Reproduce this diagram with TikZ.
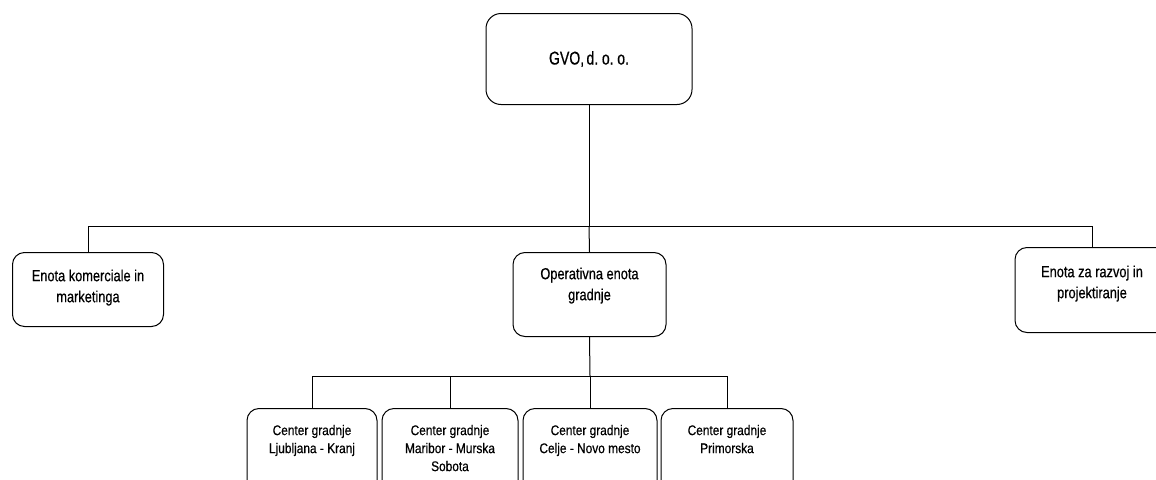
\documentclass[tikz,border=0pt]{standalone}
\usepackage{fontspec}
\setmainfont{Liberation Sans}
\newfontfamily\fonttop{Liberation Sans}[FakeStretch=0.76,FakeBold=0.5,WordSpace=0.6]
\newfontfamily\fontmid{Liberation Sans}[FakeStretch=0.80,FakeBold=0.5]
\newfontfamily\fontlow{Liberation Sans}[FakeStretch=0.85,FakeBold=0.5]
\newcommand\boxtext[5]{\parbox[c][#2][t]{#1}{\centering\vspace*{#3}#4\strut#5\par}}
\begin{document}
\begin{tikzpicture}[x=1pt,y=-1pt,
  box/.style={draw, line width=1pt, rounded corners=12pt, inner sep=0pt, anchor=north},
  conn/.style={line width=1pt}]
\useasboundingbox (0,0) rectangle (1156,479);
\begin{scope}
\clip (0,0) rectangle (1156,479);
\node[box, rounded corners=15pt] (top) at (589,13)
  {\parbox[c][91pt][c]{206pt}{\centering\fonttop\fontsize{18.5}{21}\selectfont GVO, d. o. o.}};
\node[box] (left) at (88,252)
  {\boxtext{151pt}{74pt}{14pt}{\fontmid\fontsize{16}{21}\selectfont}{Enota komerciale in\\marketinga}};
\node[box] (mid) at (589.5,252)
  {\boxtext{153pt}{84pt}{12pt}{\fontmid\fontsize{16}{21}\selectfont}{Operativna enota\\gradnje}};
\node[box] (right) at (1092,247)
  {\boxtext{154pt}{85pt}{15pt}{\fontmid\fontsize{16}{21}\selectfont}{Enota za razvoj in\\projektiranje}};
\node[box] (b1) at (312,408)
  {\boxtext{130pt}{90pt}{14pt}{\fontlow\fontsize{14}{18}\selectfont}{Center gradnje\\Ljubljana - Kranj}};
\node[box] (b2) at (450,408)
  {\boxtext{136pt}{90pt}{14pt}{\fontlow\fontsize{14}{18}\selectfont}{Center gradnje\\Maribor - Murska\\Sobota}};
\node[box] (b3) at (590,408)
  {\boxtext{134pt}{90pt}{14pt}{\fontlow\fontsize{14}{18}\selectfont}{Center gradnje\\Celje - Novo mesto}};
\node[box] (b4) at (727,408)
  {\boxtext{132pt}{90pt}{14pt}{\fontlow\fontsize{14}{18}\selectfont}{Center gradnje\\Primorska}};
\end{scope}
\coordinate (bus1) at (589,226);
\coordinate (bus2) at (590,376);
\draw[conn] (top.south) -- (bus1);
\draw[conn] (bus1) -| (left.north);
\draw[conn] (bus1) -- (mid.north);
\draw[conn] (bus1) -| (right.north);
\draw[conn] (mid.south) -- (bus2);
\draw[conn] (bus2) -| (b1.north);
\draw[conn] (bus2) -| (b2.north);
\draw[conn] (bus2) -- (b3.north);
\draw[conn] (bus2) -| (b4.north);
\end{tikzpicture}
\end{document}
